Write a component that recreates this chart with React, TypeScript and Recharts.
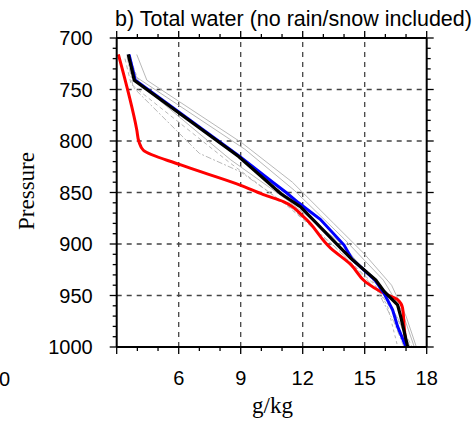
import React from 'react';
import { LineChart, Line, XAxis, YAxis, ReferenceLine } from 'recharts';

// ---- data ----
const xTicks = [3, 4, 5, 6, 7, 8, 9, 10, 11, 12, 13, 14, 15, 16, 17, 18];
const xLabelled = [6, 9, 12, 15, 18];
const xMajor = [3, 6, 9, 12, 15, 18];
const yTicks = [700, 710, 720, 730, 740, 750, 760, 770, 780, 790, 800, 810, 820, 830, 840, 850, 860, 870, 880, 890, 900, 910, 920, 930, 940, 950, 960, 970, 980, 990, 1000];
const yMajor = [700, 750, 800, 850, 900, 950, 1000];
const xGrid = [6, 9, 12, 15];
const yGrid = [750, 800, 850, 900, 950];

const blackP = [716, 741, 815, 851, 864, 904, 914, 935, 946, 959, 971, 1000];
const blackV = [3.56, 3.85, 8.9, 10.93, 11.9, 13.84, 14.33, 15.54, 15.94, 16.59, 16.75, 17.08];

const blueP = [716, 741, 815, 840, 850, 860, 876, 901, 915, 935, 948, 964, 980, 1000];
const blueV = [3.6, 3.9, 8.95, 10.55, 11.2, 11.8, 12.85, 14.0, 14.4, 15.5, 15.94, 16.35, 16.59, 17.0];

const redP = [716, 789, 801, 809, 823, 843, 852, 859, 874, 904, 920, 937, 948, 954, 962, 980, 1000];
const redV = [3.08, 3.97, 4.08, 4.29, 6.07, 9.0, 10.1, 11.09, 12.06, 13.35, 14.33, 15.05, 15.94, 16.59, 16.83, 16.91, 17.0];

const gray1P = [716, 741, 802, 840, 880, 910, 940, 970, 1000];
const gray1V = [3.97, 4.46, 9.07, 11.5, 13.5, 15.0, 16.3, 17.0, 17.5];
const gray2P = [720, 745, 820, 862, 902, 940, 970, 1000];
const gray2V = [3.4, 3.7, 8.4, 11.2, 13.5, 15.5, 16.5, 17.3];
const gray3P = [718, 748, 812, 830, 866, 907, 945, 975, 1000];
const gray3V = [3.5, 3.8, 7.0, 9.0, 11.5, 13.8, 15.6, 16.4, 16.9];
const gray4P = [716, 738, 808, 848, 895, 935, 965, 1000];
const gray4V = [3.6, 3.95, 9.2, 11.6, 14.0, 15.9, 16.8, 17.4];
const gray5P = [722, 744, 812, 850, 890, 930, 960, 1000];
const gray5V = [3.7, 4.1, 8.7, 11.0, 13.2, 15.2, 16.1, 16.6];
const gray6P = [716, 741, 818, 858, 900, 942, 972, 1000];
const gray6V = [3.5, 3.9, 8.5, 11.3, 13.9, 15.7, 16.6, 17.2];

const toRows = (p: number[], v: number[]) => p.map((pp, i) => ({ p: pp, v: v[i] }));

const grays = [
  { rows: toRows(gray1P, gray1V), dash: undefined },
  { rows: toRows(gray2P, gray2V), dash: '4 3' },
  { rows: toRows(gray3P, gray3V), dash: '6 2 2 2' },
  { rows: toRows(gray4P, gray4V), dash: undefined },
  { rows: toRows(gray5P, gray5V), dash: '3 3' },
  { rows: toRows(gray6P, gray6V), dash: undefined },
];

const SANS = '"Liberation Sans", Arial, Helvetica, sans-serif';
const SERIF = '"Liberation Serif", "Times New Roman", serif';

const LeftTick = (props: any) => {
  const { x, y, payload } = props;
  const major = yMajor.includes(payload.value);
  return (
    <g>
      <line x1={x} x2={x - (major ? 7 : 4)} y1={y} y2={y} stroke="#000" strokeWidth={1.3} />
      {major && (
        <text x={x - 24} y={y} dy="0.36em" textAnchor="end" fontSize={20} fontFamily={SANS} fill="#000">
          {payload.value}
        </text>
      )}
    </g>
  );
};

const RightTick = (props: any) => {
  const { x, y, payload } = props;
  const major = yMajor.includes(payload.value);
  return <line x1={x} x2={x + (major ? 7 : 4)} y1={y} y2={y} stroke="#000" strokeWidth={1.3} />;
};

const BottomTick = (props: any) => {
  const { x, y, payload } = props;
  const major = xMajor.includes(payload.value);
  return (
    <g>
      <line x1={x} x2={x} y1={y} y2={y + (major ? 7 : 4)} stroke="#000" strokeWidth={1.3} />
      {xLabelled.includes(payload.value) && (
        <text x={x} y={y + 38} textAnchor="middle" fontSize={20} fontFamily={SANS} fill="#000">
          {payload.value}
        </text>
      )}
    </g>
  );
};

const TopTick = (props: any) => {
  const { x, y, payload } = props;
  const major = xMajor.includes(payload.value);
  return <line x1={x} x2={x} y1={y} y2={y - (major ? 7 : 4)} stroke="#000" strokeWidth={1.3} />;
};

export default function App() {
  return (
    <div style={{ position: 'absolute', left: 0, top: 0, width: 473, height: 421, background: '#fff' }}>
      <LineChart
        width={473}
        height={421}
        layout="vertical"
        margin={{ top: 37, right: 45.3, bottom: 73, left: 115.7 }}
      >
        <XAxis
          xAxisId="b"
          type="number"
          dataKey="v"
          domain={[3, 18]}
          ticks={xTicks}
          interval={0}
          allowDataOverflow
          orientation="bottom"
          height={1}
          tickSize={0}
          tickMargin={0}
          tickLine={false}
          axisLine={{ stroke: '#000', strokeWidth: 2 }}
          tick={<BottomTick />}
        />
        <XAxis
          xAxisId="t"
          type="number"
          domain={[3, 18]}
          ticks={xTicks}
          interval={0}
          allowDataOverflow
          orientation="top"
          height={1}
          tickSize={0}
          tickMargin={0}
          tickLine={false}
          axisLine={{ stroke: '#000', strokeWidth: 2 }}
          tick={<TopTick />}
        />
        <YAxis
          yAxisId="l"
          type="number"
          dataKey="p"
          domain={[700, 1000]}
          ticks={yTicks}
          interval={0}
          allowDataOverflow
          orientation="left"
          width={1}
          tickSize={0}
          tickMargin={0}
          tickLine={false}
          axisLine={{ stroke: '#000', strokeWidth: 2 }}
          tick={<LeftTick />}
        />
        <YAxis
          yAxisId="r"
          type="number"
          dataKey="p"
          domain={[700, 1000]}
          ticks={yTicks}
          interval={0}
          allowDataOverflow
          orientation="right"
          width={1}
          tickSize={0}
          tickMargin={0}
          tickLine={false}
          axisLine={{ stroke: '#000', strokeWidth: 2 }}
          tick={<RightTick />}
        />
        {xGrid.map((g) => (
          <ReferenceLine key={'x' + g} x={g} xAxisId="b" yAxisId="l" stroke="#444" strokeWidth={1.3} strokeDasharray="5 5" />
        ))}
        {yGrid.map((g) => (
          <ReferenceLine key={'y' + g} y={g} xAxisId="b" yAxisId="l" stroke="#444" strokeWidth={1.3} strokeDasharray="5 5" />
        ))}
        {grays.map((g, i) => (
          <Line
            key={'g' + i}
            data={g.rows}
            dataKey="v"
            xAxisId="b"
            yAxisId="l"
            type="linear"
            stroke="#b8b8b8"
            strokeWidth={1}
            strokeDasharray={g.dash}
            dot={false}
            activeDot={false}
            isAnimationActive={false}
          />
        ))}
        <Line data={toRows(redP, redV)} dataKey="v" xAxisId="b" yAxisId="l" type="monotone" stroke="#ff0000" strokeWidth={3} dot={false} activeDot={false} isAnimationActive={false} />
        <Line data={toRows(blueP, blueV)} dataKey="v" xAxisId="b" yAxisId="l" type="linear" stroke="#0000ff" strokeWidth={3} dot={false} activeDot={false} isAnimationActive={false} />
        <Line data={toRows(blackP, blackV)} dataKey="v" xAxisId="b" yAxisId="l" type="linear" stroke="#000" strokeWidth={3.2} dot={false} activeDot={false} isAnimationActive={false} />
      </LineChart>
      <svg width={473} height={421} style={{ position: 'absolute', left: 0, top: 0, pointerEvents: 'none' }}>
        <text x={115} y={25.5} fontSize={21.5} fontFamily={SANS} fill="#000">b) Total water (no rain/snow included)</text>
        <text x={-1} y={386} fontSize={20} fontFamily={SANS} fill="#000">0</text>
        <text x={272.5} y={413} textAnchor="middle" fontSize={23} fontFamily={SERIF} fill="#000">g/kg</text>
        <text x={34.3} y={191} transform="rotate(-90 34.3 191)" textAnchor="middle" fontSize={23} fontFamily={SERIF} fill="#000">Pressure</text>
      </svg>
    </div>
  );
}
